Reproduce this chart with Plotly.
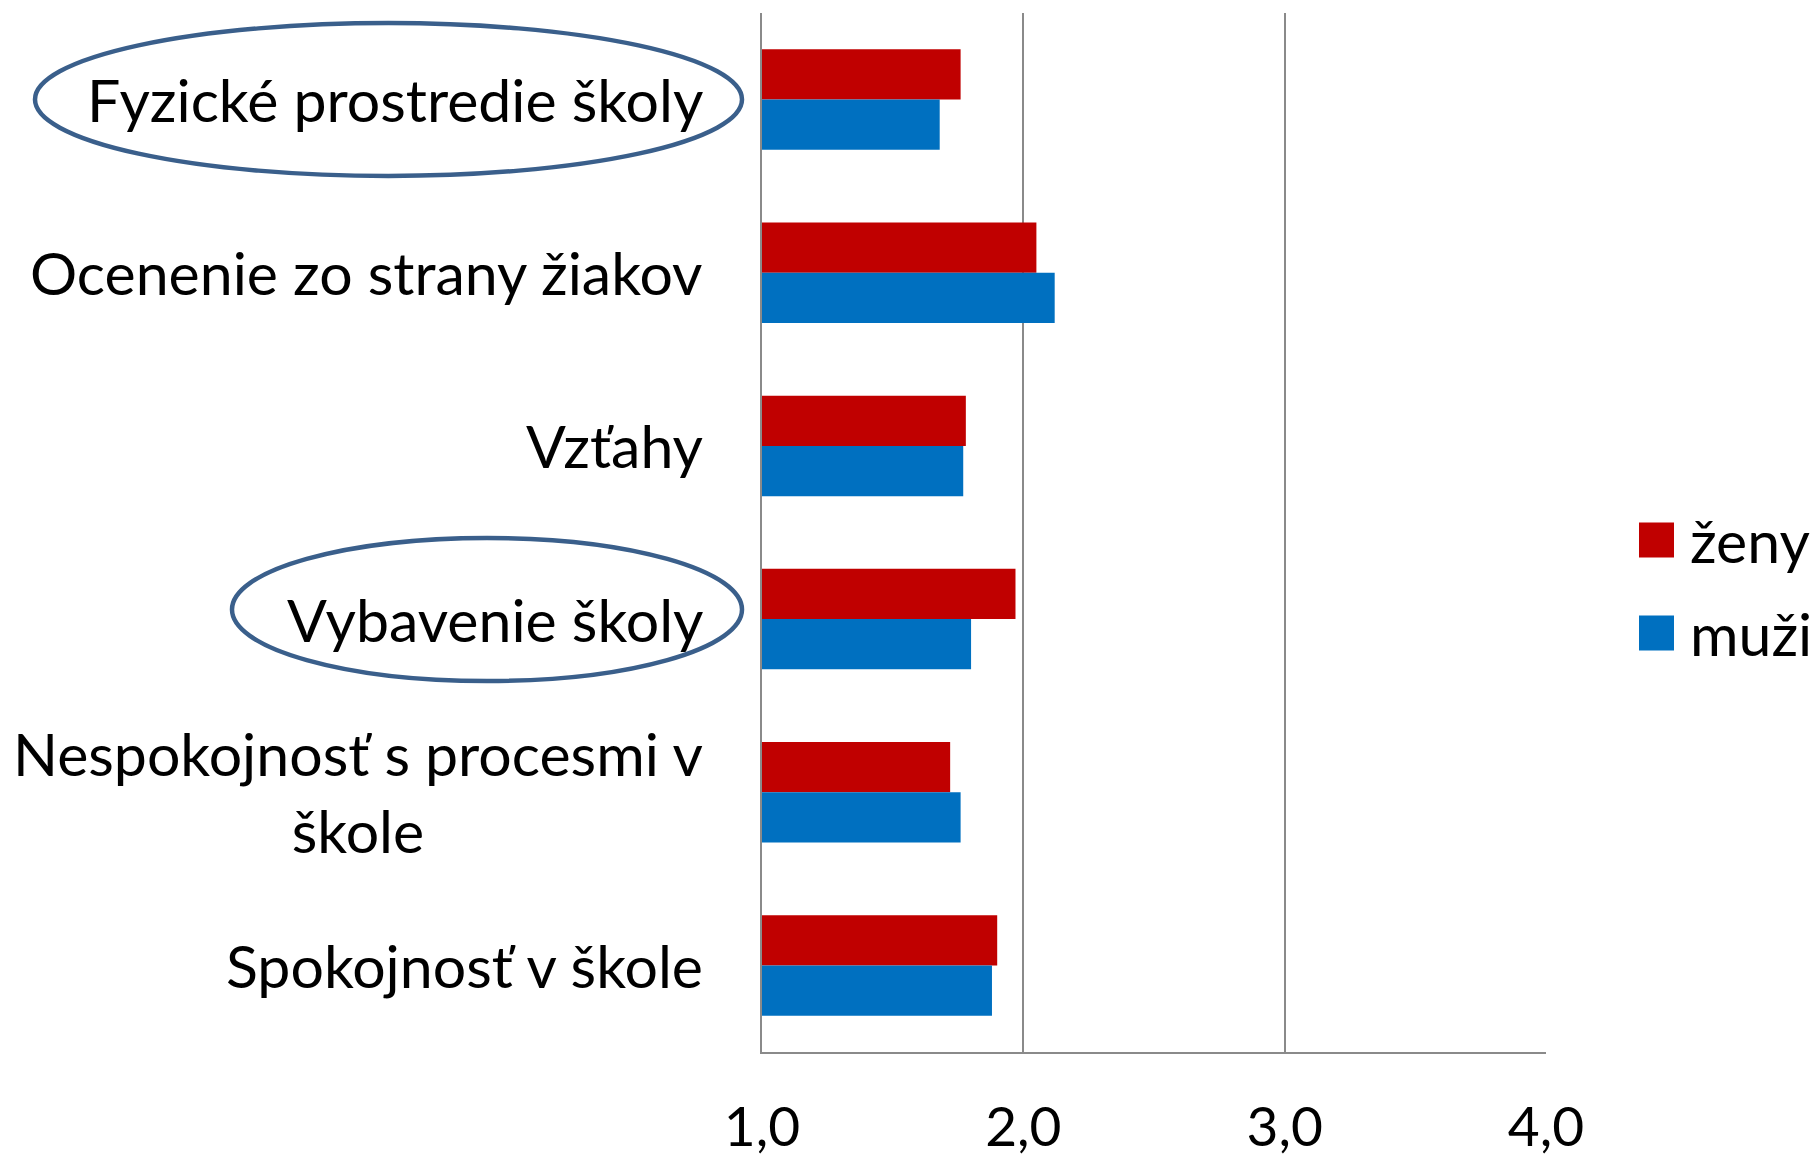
import plotly.graph_objects as go

# data
categories = [
    "Fyzické prostredie školy",
    "Ocenenie zo strany žiakov",
    "Vzťahy",
    "Vybavenie školy",
    "Nespokojnosť s procesmi v<br>škole",
    "Spokojnosť v škole",
]
zeny = [1.76, 2.05, 1.78, 1.97, 1.72, 1.90]
muzi = [1.68, 2.12, 1.77, 1.80, 1.76, 1.88]
series_names = ["ženy", "muži"]
colors = ["#C00000", "#0070C0"]
x_ticks = [1, 2, 3, 4]
x_labels = ["1,0", "2,0", "3,0", "4,0"]
circled = ["Fyzické prostredie školy", "Vybavenie školy"]

# page is 1819x1164, body has an 8px margin
OFF = 8
W, H = 1819 - 2 * OFF, 1164 - OFF
L, R, T, B = 762, 1546, 13, 1052   # plot area in screen pixels
FONT = "Lato, 'Open Sans', sans-serif"
FS = 59


def px_x(p):
    return (p - L) / (R - L)


def px_y(p):
    return (B - p) / (B - T)


fig = go.Figure()
for name, vals, col in zip(series_names, [zeny, muzi], colors):
    fig.add_trace(go.Bar(y=categories, x=vals, name=name, orientation="h",
                         marker=dict(color=col, line=dict(width=0)),
                         showlegend=False))

# category labels as annotations so wrapped lines are centred
for c in categories:
    fig.add_annotation(x=px_x(705), xref="paper", y=c, yref="y", text=c,
                       showarrow=False, xanchor="right", align="center",
                       font=dict(size=FS, color="black", family=FONT))

# ellipses round highlighted labels
ellipses = {circled[0]: (35, 742, 23, 176), circled[1]: (232, 742, 538, 681)}
for c, (a, b, c0, c1) in ellipses.items():
    fig.add_shape(type="circle", xref="paper", yref="paper",
                  x0=px_x(a), x1=px_x(b), y0=px_y(c1), y1=px_y(c0),
                  line=dict(color="#3A5F8B", width=4.5))

# hand-made legend with big squares
for i, (name, col) in enumerate(zip(series_names, colors)):
    cy = 540 + i * 93
    fig.add_shape(type="rect", xref="paper", yref="paper",
                  x0=px_x(1639), x1=px_x(1674), y0=px_y(cy + 17.5), y1=px_y(cy - 17.5),
                  fillcolor=col, line=dict(width=0))
    fig.add_annotation(x=px_x(1688), y=px_y(cy), xref="paper", yref="paper",
                       text=name, showarrow=False, xanchor="left", yanchor="middle",
                       font=dict(size=FS, color="black", family=FONT))

fig.update_layout(
    width=W, height=H,
    margin=dict(l=L - OFF, r=W + OFF - R, t=T - OFF, b=H + OFF - B),
    barmode="group", bargap=0.42, bargroupgap=0,
    plot_bgcolor="white", paper_bgcolor="white",
    font=dict(family=FONT, size=FS, color="black"),
)
fig.update_xaxes(range=[1, 4], tickvals=x_ticks, ticktext=x_labels,
                 showgrid=True, gridcolor="#8A8A8A", gridwidth=2,
                 showline=True, linecolor="#8A8A8A", linewidth=2,
                 zeroline=False, ticks="", ticklabelstandoff=26,
                 automargin=False, tickfont=dict(size=55))
fig.update_yaxes(autorange="reversed", showticklabels=False,
                 showline=True, linecolor="#8A8A8A", linewidth=2,
                 showgrid=False, ticks="", automargin=False)

fig.write_html("out.html")
